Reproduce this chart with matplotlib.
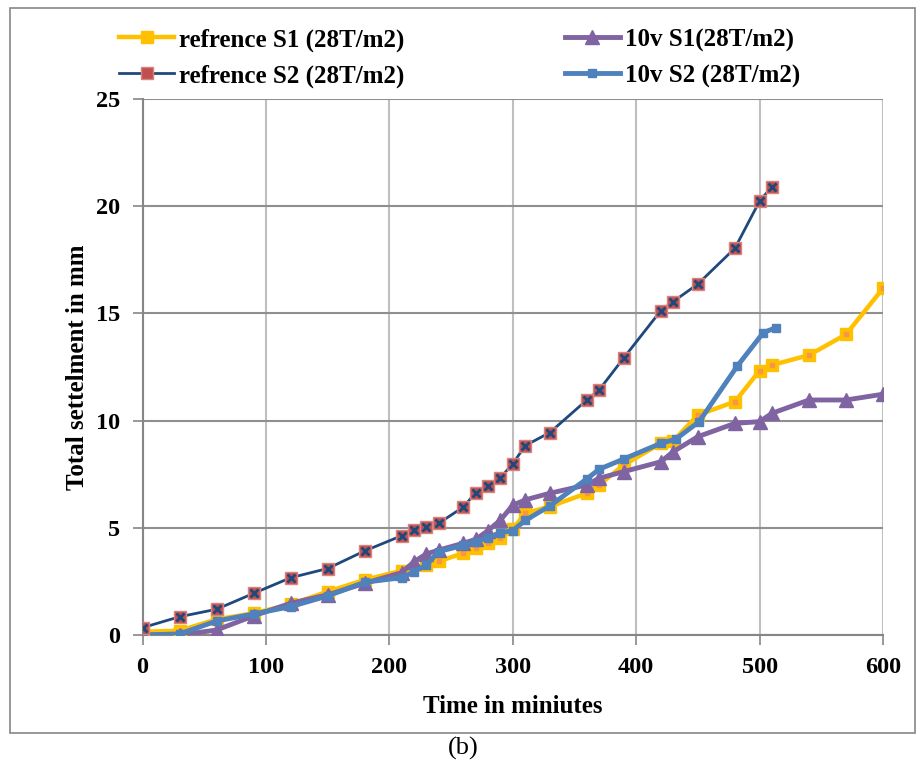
import numpy as np
import matplotlib.pyplot as plt
from matplotlib.patches import Rectangle

# reference S1 (28T/m2)
ref_s1_t = [0, 30, 60, 90, 120, 150, 180, 210, 230, 240, 260, 270, 280, 290, 300,
            310, 330, 360, 370, 390, 420, 430, 450, 480, 500, 510, 540, 570, 600]
ref_s1_v = [0.15, 0.2, 0.73, 1.01, 1.43, 2.02, 2.57, 3.0, 3.28, 3.43, 3.82, 4.04, 4.27, 4.5, 4.93,
            5.68, 5.99, 6.61, 7.0, 7.93, 8.94, 9.05, 10.26, 10.88, 12.33, 12.59, 13.05, 14.02, 16.17]

# reference S2 (28T/m2)
ref_s2_t = [0, 30, 60, 90, 120, 150, 180, 210, 220, 230, 240, 260, 270, 280, 290,
            300, 310, 330, 360, 370, 390, 420, 430, 450, 480, 500, 510]
ref_s2_v = [0.34, 0.85, 1.2, 1.94, 2.67, 3.1, 3.92, 4.63, 4.9, 5.04, 5.21, 5.97, 6.64, 6.95, 7.34,
            7.98, 8.83, 9.44, 10.96, 11.43, 12.93, 15.13, 15.55, 16.37, 18.04, 20.24, 20.91]

# 10v S1 (28T/m2)
v10_s1_t = [0, 30, 60, 90, 120, 150, 180, 210, 220, 230, 240, 260, 270, 280, 290,
            300, 310, 330, 360, 370, 390, 420, 430, 450, 480, 500, 510, 540, 570, 600]
v10_s1_v = [0.0, 0.0, 0.23, 0.89, 1.48, 1.87, 2.41, 2.91, 3.42, 3.78, 3.96, 4.28, 4.46, 4.87, 5.36,
            6.05, 6.3, 6.61, 7.0, 7.31, 7.62, 8.08, 8.55, 9.25, 9.87, 9.95, 10.34, 10.96, 10.96, 11.23]

# 10v S2 (28T/m2)
v10_s2_t = [0, 30, 60, 90, 120, 150, 180, 210, 220, 230, 240, 260, 270, 280, 290,
            300, 310, 330, 360, 370, 390, 420, 432, 451, 482, 503, 513]
v10_s2_v = [0.0, 0.05, 0.65, 0.98, 1.32, 1.82, 2.46, 2.67, 2.95, 3.26, 3.89, 4.18, 4.35, 4.54, 4.77,
            4.87, 5.34, 6.02, 7.28, 7.73, 8.21, 8.94, 9.13, 9.95, 12.55, 14.1, 14.33]

x_ticks = [0, 100, 200, 300, 400, 500, 600]
y_ticks = [0, 5, 10, 15, 20, 25]

plt.rcParams['font.family'] = ['Liberation Serif', 'DejaVu Serif']

fig = plt.figure(figsize=(9.23, 7.72), dpi=100)
ax = fig.add_axes([0.1544, 0.1775, 0.8023, 0.6943])

gold = '#FFC000'
navy = '#1F497D'
purple = '#8064A2'
blue = '#4F81BD'

l1, = ax.plot(ref_s1_t, ref_s1_v, color=gold, lw=3.2, marker='s', ms=9,
              mfc=gold, mec=gold, label='refrence S1 (28T/m2)', zorder=3)
ax.plot(ref_s1_t, ref_s1_v, ls='none', marker='s', ms=2.5, mfc='#F79646',
        mec='#F79646', zorder=3.1)
l3, = ax.plot(v10_s1_t, v10_s1_v, color=purple, lw=3.5, marker='^', ms=10,
              mfc=purple, mec=purple, label='10v S1(28T/m2)', zorder=4)
l4, = ax.plot(v10_s2_t, v10_s2_v, color=blue, lw=3.5, marker='s', ms=6,
              mfc=blue, mec=blue, label='10v S2 (28T/m2)', zorder=5)
l2, = ax.plot(ref_s2_t, ref_s2_v, color=navy, lw=2, marker='s', ms=8,
              mfc='#C0504D', mec='#D9837F', mew=1, label='refrence S2 (28T/m2)', zorder=6)
ax.plot(ref_s2_t, ref_s2_v, ls='none', marker='x', ms=6, mec=navy, mew=2, zorder=6.1)

ax.set_xlim(0, 600)
ax.set_ylim(0, 25)
ax.set_xticks(x_ticks)
ax.set_yticks(y_ticks)
ax.set_axisbelow(True)
ax.grid(True, axis='y', color='#8F8F8F', lw=1.5)
ax.grid(True, axis='x', color='#BFBFBF', lw=1.5)

for s in ['top', 'right']:
    ax.spines[s].set_visible(False)
for s in ['left', 'bottom']:
    ax.spines[s].set_color('#868686')
    ax.spines[s].set_linewidth(1.5)
ax.tick_params(axis='both', direction='out', length=7, width=1.2, color='#868686',
               labelsize=17.5)
ax.tick_params(axis='y', pad=9)
ax.tick_params(axis='x', pad=9)
for lab in ax.get_xticklabels() + ax.get_yticklabels():
    lab.set_fontweight('bold')

ax.set_xlabel('Time in miniutes', fontsize=18, fontweight='bold', labelpad=12)
ax.set_ylabel('Total settelment in mm', fontsize=18, fontweight='bold', labelpad=5)

fig.legend(handles=[l1, l2, l3, l4], loc='center', bbox_to_anchor=(0.498, 0.925),
           ncol=2, frameon=False, handlelength=2.2, handletextpad=0.2,
           columnspacing=6.4, labelspacing=0.5, prop={'weight': 'bold', 'size': 18})

# chart area border
fig.patches.append(Rectangle((0.0108, 0.0505), 0.9805, 0.9391, transform=fig.transFigure,
                             fill=False, edgecolor='#868686', lw=1.2))
fig.text(0.5016, 0.03, '(b)', ha='center', va='center', fontsize=19)

fig.savefig('out.png', dpi=100)
